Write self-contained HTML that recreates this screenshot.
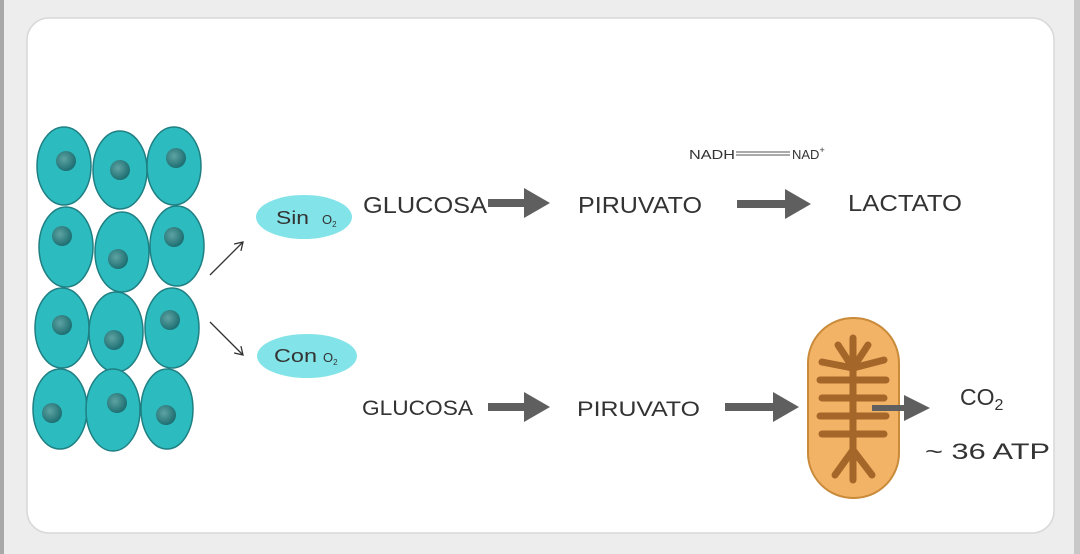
<!DOCTYPE html>
<html><head><style>
html,body{margin:0;padding:0;background:#ededed;width:1080px;height:554px;overflow:hidden}
svg{display:block}
text{font-family:"Liberation Sans",sans-serif;fill:#333}
</style></head><body>
<svg width="1080" height="554" viewBox="0 0 1080 554">
<defs>
<radialGradient id="nuc" cx="0.4" cy="0.4" r="0.6"><stop offset="0" stop-color="#5fa3a3"/><stop offset="1" stop-color="#1e6f72"/></radialGradient>
<marker id="ah" markerWidth="10" markerHeight="10" refX="8" refY="5" orient="auto" markerUnits="userSpaceOnUse"><path d="M0,0 L8,5 L0,10" fill="none" stroke="#333" stroke-width="1.3"/></marker>
</defs>
<rect x="0" y="0" width="1080" height="554" fill="#ededed"/>
<rect x="0" y="0" width="4" height="554" fill="#a8a8a8"/>
<rect x="1074" y="0" width="6" height="554" fill="#c8c8c8"/>
<rect x="27" y="18" width="1027" height="515" rx="22" fill="#fff" stroke="#d8d8d8" stroke-width="1.5"/>
<g fill="#2cbcc0" stroke="#1f7f82" stroke-width="1.5">
<ellipse cx="64" cy="166" rx="27" ry="39"/><ellipse cx="120" cy="170" rx="27" ry="39"/><ellipse cx="174" cy="166" rx="27" ry="39"/>
<ellipse cx="66" cy="247" rx="27" ry="40"/><ellipse cx="122" cy="252" rx="27" ry="40"/><ellipse cx="177" cy="246" rx="27" ry="40"/>
<ellipse cx="62" cy="328" rx="27" ry="40"/><ellipse cx="116" cy="332" rx="27" ry="40"/><ellipse cx="172" cy="328" rx="27" ry="40"/>
<ellipse cx="60" cy="409" rx="27" ry="40"/><ellipse cx="113" cy="410" rx="27" ry="41"/><ellipse cx="167" cy="409" rx="26" ry="40"/>
</g>
<g fill="url(#nuc)">
<circle cx="66" cy="161" r="10"/><circle cx="120" cy="170" r="10"/><circle cx="176" cy="158" r="10"/>
<circle cx="62" cy="236" r="10"/><circle cx="118" cy="259" r="10"/><circle cx="174" cy="237" r="10"/>
<circle cx="62" cy="325" r="10"/><circle cx="114" cy="340" r="10"/><circle cx="170" cy="320" r="10"/>
<circle cx="52" cy="413" r="10"/><circle cx="117" cy="403" r="10"/><circle cx="166" cy="415" r="10"/>
</g>
<line x1="210" y1="275" x2="243" y2="242" stroke="#333" stroke-width="1.3" marker-end="url(#ah)"/>
<line x1="210" y1="322" x2="243" y2="355" stroke="#333" stroke-width="1.3" marker-end="url(#ah)"/>
<ellipse cx="304" cy="217" rx="48" ry="22" fill="#82e4e9"/>
<ellipse cx="307" cy="356" rx="50" ry="22" fill="#82e4e9"/>
<text x="276" y="224" font-size="18" textLength="33" lengthAdjust="spacingAndGlyphs">Sin</text><text x="322" y="224" font-size="13">O<tspan font-size="8" dy="3">2</tspan></text>
<text x="274" y="362" font-size="18" textLength="43" lengthAdjust="spacingAndGlyphs">Con</text><text x="323" y="362" font-size="13">O<tspan font-size="8" dy="3">2</tspan></text>
<g fill="#5f5f5f">
<path d="M488,199 h36 v-11 l26,15 l-26,15 v-11 h-36z"/>
<path d="M737,200 h48 v-11 l26,15 l-26,15 v-11 h-48z"/>
<path d="M488,403 h36 v-11 l26,15 l-26,15 v-11 h-36z"/>
<path d="M725,403 h48 v-11 l26,15 l-26,15 v-11 h-48z"/>
</g>
<text x="363" y="213" font-size="23" textLength="124" lengthAdjust="spacingAndGlyphs">GLUCOSA</text>
<text x="578" y="213" font-size="23" textLength="124" lengthAdjust="spacingAndGlyphs">PIRUVATO</text>
<text x="848" y="211" font-size="23" textLength="114" lengthAdjust="spacingAndGlyphs">LACTATO</text>
<text x="362" y="415" font-size="21" textLength="111" lengthAdjust="spacingAndGlyphs">GLUCOSA</text>
<text x="577" y="416" font-size="21" textLength="123" lengthAdjust="spacingAndGlyphs">PIRUVATO</text>
<text x="689" y="159" font-size="13" fill="#444" textLength="46" lengthAdjust="spacingAndGlyphs">NADH</text>
<line x1="736" y1="152" x2="790" y2="152" stroke="#777" stroke-width="1.2"/>
<line x1="736" y1="155" x2="790" y2="155" stroke="#777" stroke-width="1.2"/>
<text x="792" y="159" font-size="13" fill="#444">NAD<tspan font-size="9" dy="-6">+</tspan></text>
<rect x="808" y="318" width="91" height="180" rx="45" fill="#f3b366" stroke="#c98a3a" stroke-width="2"/>
<g stroke="#a5662a" stroke-width="7" stroke-linecap="round" fill="none">
<path d="M853,338 V480"/>
<path d="M838,345 L853,368 L868,345"/>
<path d="M820,380 H886 M822,398 H884 M820,416 H886 M822,434 H884 M822,362 L853,368 L884,360"/>
<path d="M835,475 L853,450 L872,475"/>
</g>
<path d="M872,405 h32 v-10 l26,13 l-26,13 v-10 h-32z" fill="#5f5f5f"/>
<text x="960" y="405" font-size="23">CO<tspan font-size="16" dy="5">2</tspan></text>
<text x="925" y="459" font-size="22" textLength="125" lengthAdjust="spacingAndGlyphs">~ 36 ATP</text>
</svg>
</body></html>
